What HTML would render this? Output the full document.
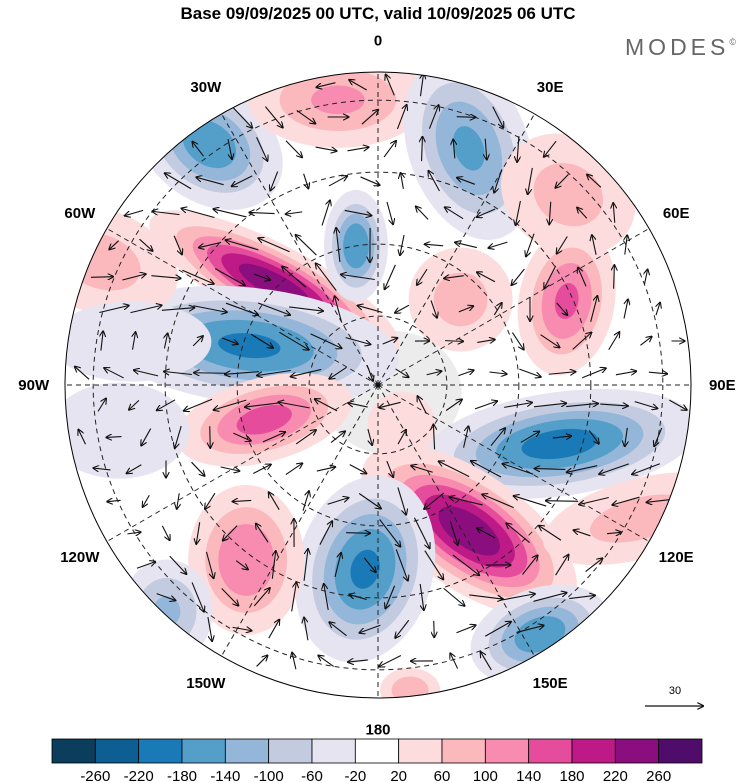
<!DOCTYPE html>
<html><head><meta charset="utf-8"><style>
body{margin:0;background:#fff;width:750px;height:783px;overflow:hidden;font-family:"Liberation Sans",sans-serif}
svg{position:absolute;left:0;top:0}
</style></head><body>
<svg id="s" width="750" height="783">
<defs><clipPath id="cp"><circle cx="378" cy="385" r="313"/></clipPath>
<marker id="ah" markerWidth="6" markerHeight="6" refX="5" refY="3" orient="auto"><path d="M0,0 L6,3 L0,6" fill="none" stroke="#111" stroke-width="1"/></marker></defs>
<text x="378" y="19" text-anchor="middle" font-size="17" font-weight="bold">Base 09/09/2025 00 UTC, valid 10/09/2025 06 UTC</text>
<text x="740" y="55" text-anchor="end" font-size="23" fill="#666" letter-spacing="4">MODES<tspan font-size="9" dy="-10">©</tspan></text>
<g id="map" clip-path="url(#cp)"></g>
<circle cx="378" cy="385" r="313" fill="none" stroke="#000" stroke-width="1"/>
<g id="labels"></g>
<g id="cbar"></g>
<text x="675" y="694" text-anchor="middle" font-size="11">30</text>
<line x1="645" y1="706" x2="703" y2="706" stroke="#111" stroke-width="1.2" marker-end="url(#ah)"/>
</svg>
<script>
// anomaly centres: rho (fraction of map radius from pole), lon (deg E), peak value
const blobRho=[0.94,0.92,0.81,0.86,0.66,0.46,0.45,0.43,0.38,0.61,0.55,0.59,0.70,0.95,0.99,0.97,0.94,0.38,0.98,0.84,0.15,0.80];
const blobLon=[-35,-8,21,45,66,-46,-9,-73,-107,108,148,-176,-143,147,-137,-66,117,44,174,-100,150,-80];
const blobVal=[-170,110,-150,80,150,250,-180,-190,160,-200,250,-190,140,-170,-110,80,80,80,100,-60,60,-60];
const blobSx=[80,90,60,70,48,140,32,150,90,140,125,68,58,72,46,80,100,52,30,70,34,80];
const blobSy=[58,48,95,58,75,40,56,58,42,52,58,95,75,46,52,52,40,52,22,48,34,40];
const blobRot=[35,0,-20,30,10,28,0,6,-15,-8,35,15,0,-20,0,20,-15,0,0,0,0,0];
const levels=[20,60,100,140,180,220,260];
const posCols=['#fcdcdc','#fbb8bd','#f78bb0','#e54c9c','#bd1a87','#8a0e7e','#4f0c6b'];
const negCols=['#e6e4f0','#c3cbe0','#94b6d8','#549fc9','#1a7ab8','#0d5e93','#0b3d5c'];
const cbLabels=['-260','-220','-180','-140','-100','-60','-20','20','60','100','140','180','220','260'];
const cbCols=['#0b3d5c','#0d5e93','#1a7ab8','#549fc9','#94b6d8','#c3cbe0','#e6e4f0','#ffffff','#fcdcdc','#fbb8bd','#f78bb0','#e54c9c','#bd1a87','#8a0e7e','#4f0c6b'];
const lonLabels=['0','30E','60E','90E','120E','150E','180','150W','120W','90W','60W','30W'];
const lonLabelAng=[0,30,60,90,120,150,180,-150,-120,-90,-60,-30];
const latRho=[0.22,0.45,0.68,0.91];

const CX=378,CY=385,R=313,NS='http://www.w3.org/2000/svg';
function px(rho,lon){const a=lon*Math.PI/180;return [CX+R*rho*Math.sin(a),CY-R*rho*Math.cos(a)];}
function mk(t,a,p){const e=document.createElementNS(NS,t);for(const k in a)e.setAttribute(k,a[k]);p.appendChild(e);return e;}
const map=document.getElementById('map');
const [ax,ay]=px(0.05,120);
const ant=mk('ellipse',{cx:ax,cy:ay,rx:70,ry:62,fill:'#ececec'},map);


blobVal.forEach((v,i)=>{
  const [x,y]=px(blobRho[i],blobLon[i]);
  const g=mk('g',{transform:`rotate(${blobRot[i]} ${x} ${y})`},map);
  
  
  const av=Math.abs(v), base=Math.log(av/20);
  levels.forEach((t,j)=>{
    if(av<=t)return;
    const k=Math.pow(Math.log(av/t)/base,0.42);
    mk('ellipse',{cx:x,cy:y,rx:blobSx[i]*k,ry:blobSy[i]*k,fill:(v>0?posCols:negCols)[j]},g);
  });
});
const grid=mk('g',{stroke:'#222','stroke-width':1,'stroke-dasharray':'5,4',fill:'none'},map);


latRho.forEach(r=>mk('circle',{cx:CX,cy:CY,r:r*R},grid));
for(let l=0;l<360;l+=30){const [x,y]=px(1,l);mk('line',{x1:CX,y1:CY,x2:x,y2:y},grid);}
function field(x,y){let s=0;blobVal.forEach((v,i)=>{const [bx,by]=px(blobRho[i],blobLon[i]);const a=blobRot[i]*Math.PI/180;const dx=x-bx,dy=y-by;const u=(dx*Math.cos(a)+dy*Math.sin(a))/blobSx[i],w=(-dx*Math.sin(a)+dy*Math.cos(a))/blobSy[i];s+=v*Math.exp(-(u*u+w*w)*1.2);});return s;}
const vg=mk('g',{stroke:'#111','stroke-width':1.1,fill:'none'},map);


for(let y=85;y<700;y+=32)for(let x=70;x<700;x+=32){
  const xx=x+((y/32|0)%2)*12;
  if(Math.hypot(xx-CX,y-CY)>305)continue;
  const e=2,gx=(field(xx+e,y)-field(xx-e,y))/(2*e),gy=(field(xx,y+e)-field(xx,y-e))/(2*e);
  let u=-gy,w=gx;const m=Math.hypot(u,w);let L=Math.min(34,12+m*5);
  if(m<1e-3){u=1;w=0;}else{u/=m;w/=m;}
  mk('line',{x1:xx-u*L/2,y1:y-w*L/2,x2:xx+u*L/2,y2:y+w*L/2,'marker-end':'url(#ah)'},vg);
}
mk('circle',{cx:CX,cy:CY,r:2.5,fill:'#111'},map);
const lab=document.getElementById('labels');
lonLabels.forEach((t,i)=>{const [x,y]=px(1.1,lonLabelAng[i]);
  const e=mk('text',{x:x,y:y+5,'text-anchor':'middle','font-size':15,'font-weight':'bold'},lab);e.textContent=t;
  
  });
const cb=document.getElementById('cbar');const bw=650/cbCols.length;
cbCols.forEach((c,i)=>{const r=mk('rect',{x:52+i*bw,y:739,width:bw,height:24,fill:c,stroke:'#000','stroke-width':0.8},cb);
  
  });
cbLabels.forEach((t,i)=>{const e=mk('text',{x:52+(i+1)*bw,y:781,'text-anchor':'middle','font-size':15},cb);e.textContent=t;
  
  });
</script>
</body></html>
